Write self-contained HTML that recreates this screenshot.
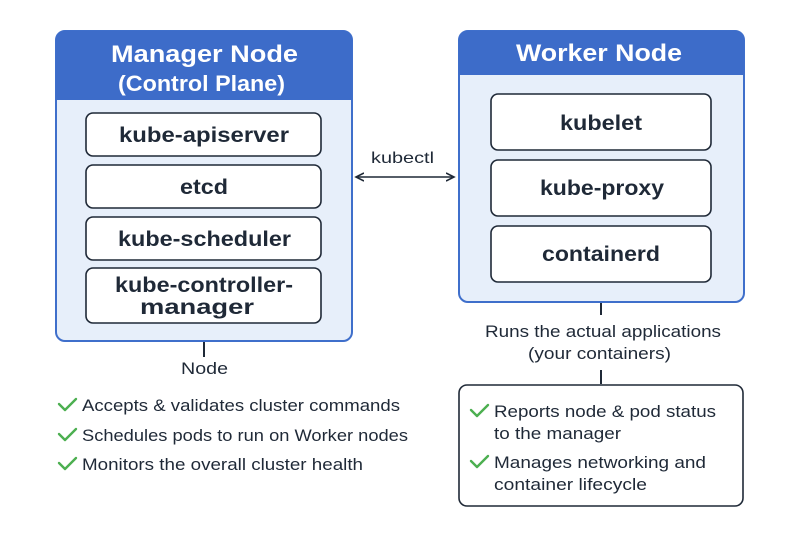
<!DOCTYPE html>
<html><head><meta charset="utf-8"><style>
html,body{margin:0;padding:0;background:#fff;}
text{font-family:"Liberation Sans",sans-serif;}
</style></head><body>
<svg width="800" height="533" viewBox="0 0 800 533" xmlns="http://www.w3.org/2000/svg">
<defs>
<marker id="ah" markerWidth="10" markerHeight="10" refX="8" refY="5" orient="auto-start-reverse" markerUnits="userSpaceOnUse">
<path d="M0,1 L8,5 L0,9" fill="none" stroke="#1f2937" stroke-width="1.6"/></marker>
</defs>
<rect width="800" height="533" fill="#fff"/>
<!-- Manager -->
<rect x="56" y="31" width="296" height="310" rx="9" fill="#e7effa" stroke="#3f6fcb" stroke-width="2"/>
<path d="M56,100 V40 a9,9 0 0 1 9,-9 H343 a9,9 0 0 1 9,9 V100 Z" fill="#3d6cc9"/>
<g font-weight="bold" fill="#fff" lengthAdjust="spacingAndGlyphs">
<text x="111" y="62" font-size="24" textLength="187" lengthAdjust="spacingAndGlyphs">Manager Node</text>
<text x="118" y="91" font-size="22" textLength="167" lengthAdjust="spacingAndGlyphs">(Control Plane)</text>
</g>
<g fill="#fff" stroke="#1f2937" stroke-width="1.6">
<rect x="86" y="113" width="235" height="43" rx="7"/>
<rect x="86" y="165" width="235" height="43" rx="7"/>
<rect x="86" y="217" width="235" height="43" rx="7"/>
<rect x="86" y="268" width="235" height="55" rx="7"/>
</g>
<g font-size="21" font-weight="bold" fill="#1f2937">
<text x="119" y="142" textLength="170" lengthAdjust="spacingAndGlyphs">kube-apiserver</text>
<text x="180" y="194" textLength="48" lengthAdjust="spacingAndGlyphs">etcd</text>
<text x="118" y="246" textLength="173" lengthAdjust="spacingAndGlyphs">kube-scheduler</text>
<text x="115" y="292" textLength="178" lengthAdjust="spacingAndGlyphs">kube-controller-</text>
<text x="140" y="314" textLength="114" lengthAdjust="spacingAndGlyphs">manager</text>
</g>
<!-- Worker -->
<rect x="459" y="31" width="285" height="271" rx="9" fill="#e7effa" stroke="#3f6fcb" stroke-width="2"/>
<path d="M459,75 V40 a9,9 0 0 1 9,-9 H735 a9,9 0 0 1 9,9 V75 Z" fill="#3d6cc9"/>
<text x="516" y="61" font-size="24" font-weight="bold" fill="#fff" textLength="166" lengthAdjust="spacingAndGlyphs">Worker Node</text>
<g fill="#fff" stroke="#1f2937" stroke-width="1.6">
<rect x="491" y="94" width="220" height="56" rx="7"/>
<rect x="491" y="160" width="220" height="56" rx="7"/>
<rect x="491" y="226" width="220" height="56" rx="7"/>
</g>
<g font-size="21" font-weight="bold" fill="#1f2937">
<text x="560" y="130" textLength="82" lengthAdjust="spacingAndGlyphs">kubelet</text>
<text x="540" y="195" textLength="124" lengthAdjust="spacingAndGlyphs">kube-proxy</text>
<text x="542" y="261" textLength="118" lengthAdjust="spacingAndGlyphs">containerd</text>
</g>
<!-- kubectl -->
<text x="371" y="163" font-size="16" fill="#1f2937" textLength="63" lengthAdjust="spacingAndGlyphs">kubectl</text>
<line x1="356" y1="177" x2="454" y2="177" stroke="#1f2937" stroke-width="1.6" marker-start="url(#ah)" marker-end="url(#ah)"/>
<!-- Manager bottom -->
<line x1="204" y1="342" x2="204" y2="357" stroke="#1f2937" stroke-width="2"/>
<text x="181" y="374" font-size="17" fill="#1f2937" textLength="47" lengthAdjust="spacingAndGlyphs">Node</text>
<g stroke="#4caf50" stroke-width="2.4" fill="none" stroke-linecap="round" stroke-linejoin="round">
<path d="M59,404 l6,6 l11,-11"/>
<path d="M59,434 l6,6 l11,-11"/>
<path d="M59,463 l6,6 l11,-11"/>
</g>
<g font-size="17" fill="#1f2937">
<text x="82" y="411" textLength="318" lengthAdjust="spacingAndGlyphs">Accepts &amp; validates cluster commands</text>
<text x="82" y="441" textLength="326" lengthAdjust="spacingAndGlyphs">Schedules pods to run on Worker nodes</text>
<text x="82" y="470" textLength="281" lengthAdjust="spacingAndGlyphs">Monitors the overall cluster health</text>
</g>
<!-- Worker bottom -->
<line x1="601" y1="303" x2="601" y2="315" stroke="#1f2937" stroke-width="2"/>
<text x="485" y="337" font-size="17" fill="#1f2937" textLength="236" lengthAdjust="spacingAndGlyphs">Runs the actual applications</text>
<text x="528" y="359" font-size="17" fill="#1f2937" textLength="143" lengthAdjust="spacingAndGlyphs">(your containers)</text>
<line x1="601" y1="370" x2="601" y2="384" stroke="#1f2937" stroke-width="2"/>
<rect x="459" y="385" width="284" height="121" rx="8" fill="#fff" stroke="#1f2937" stroke-width="1.6"/>
<g stroke="#4caf50" stroke-width="2.4" fill="none" stroke-linecap="round" stroke-linejoin="round">
<path d="M471,410 l6,6 l11,-11"/>
<path d="M471,461 l6,6 l11,-11"/>
</g>
<g font-size="17" fill="#1f2937">
<text x="494" y="417" textLength="222" lengthAdjust="spacingAndGlyphs">Reports node &amp; pod status</text>
<text x="494" y="439" textLength="127" lengthAdjust="spacingAndGlyphs">to the manager</text>
<text x="494" y="468" textLength="212" lengthAdjust="spacingAndGlyphs">Manages networking and</text>
<text x="494" y="490" textLength="153" lengthAdjust="spacingAndGlyphs">container lifecycle</text>
</g>
</svg>
</body></html>
